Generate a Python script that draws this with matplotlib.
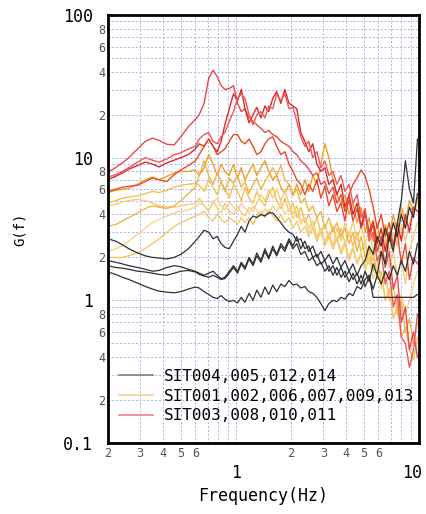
import matplotlib
matplotlib.use("Agg")
import matplotlib.pyplot as plt
from matplotlib.ticker import FixedLocator, FuncFormatter
from matplotlib.lines import Line2D
from matplotlib.transforms import ScaledTranslation

plt.rcParams['font.family'] = ['DejaVu Sans Mono']

# frequency grid (Hz)
freq = [0.2, 0.22, 0.24, 0.26, 0.29, 0.32, 0.35, 0.38, 0.42, 0.46, 0.5, 0.55,
        0.6, 0.63, 0.67, 0.71, 0.75, 0.79, 0.83, 0.87, 0.92, 0.97,
        1.02, 1.07, 1.12, 1.18, 1.24, 1.3, 1.37, 1.44, 1.51, 1.59,
        1.67, 1.76, 1.85, 1.95, 2.05, 2.15, 2.26, 2.38, 2.5, 2.63,
        2.77, 2.91, 3.06, 3.22, 3.39, 3.56, 3.75, 3.94, 4.15, 4.36,
        4.59, 4.83, 5.08, 5.34, 5.62, 5.91, 6.22, 6.54, 6.88, 7.24,
        7.62, 8.01, 8.43, 8.87, 9.33, 9.81]

# SIT004,005,012,014 (black)
b1 = [2.7, 2.6, 2.45, 2.3, 2.15, 2.05, 2.0, 1.98, 1.95, 2.0, 2.1, 2.3,
      2.6, 2.8, 3.1, 3.0, 2.7, 2.8, 2.5, 2.35, 2.3, 2.6,
      2.9, 3.3, 3.0, 3.6, 3.9, 3.8, 4.0, 3.9, 4.1, 4.1,
      3.8, 3.5, 3.2, 3.0, 2.9, 2.6, 2.7, 2.3, 2.4, 2.0,
      2.1, 1.8, 1.9, 1.6, 1.75, 1.5, 1.7, 1.45, 1.6, 1.4,
      1.55, 1.3, 1.6, 1.35, 1.8, 1.5, 2.2, 1.8, 2.8, 2.2,
      3.5, 5.0, 9.5, 6.0, 4.8, 13.5]
b2 = [1.9, 1.85, 1.8, 1.75, 1.7, 1.65, 1.6, 1.62, 1.7, 1.75, 1.72, 1.65,
      1.6, 1.55, 1.5, 1.55, 1.6, 1.5, 1.42, 1.45, 1.6, 1.75,
      1.6, 1.85, 1.7, 2.0, 1.8, 2.15, 1.9, 2.3, 2.0, 2.4,
      2.1, 2.5, 2.3, 2.7, 2.4, 2.8, 2.3, 2.6, 2.2, 2.4,
      2.0, 2.2, 1.9, 2.1, 1.8, 2.0, 1.7, 1.9, 1.6, 1.8,
      1.5, 1.75, 1.9, 2.4, 2.1, 2.8, 2.4, 3.2, 2.6, 3.5,
      2.8, 4.0, 3.2, 4.5, 3.8, 5.6]
b3 = [1.75, 1.7, 1.68, 1.65, 1.6, 1.58, 1.55, 1.52, 1.5, 1.55, 1.6, 1.62,
      1.58, 1.52, 1.48, 1.45, 1.5, 1.45, 1.4, 1.42, 1.55, 1.7,
      1.55, 1.8, 1.65, 1.95, 1.75, 2.05, 1.85, 2.2, 1.95, 2.3,
      2.05, 2.4, 2.2, 2.6, 2.3, 2.5, 2.1, 2.2, 1.9, 2.0,
      1.75, 1.85, 1.6, 1.75, 1.5, 1.7, 1.45, 1.6, 1.35, 1.55,
      1.3, 1.5, 1.25, 1.45, 1.2, 1.5, 1.3, 1.6, 1.4, 1.75,
      1.5, 1.9, 1.6, 2.2, 1.8, 2.5]
b4 = [1.58, 1.52, 1.45, 1.4, 1.32, 1.25, 1.2, 1.16, 1.14, 1.13, 1.15, 1.2,
      1.24, 1.22, 1.15, 1.1, 1.05, 1.03, 1.08, 1.02, 0.98, 1.0,
      0.96, 1.05, 0.97, 1.12, 1.0, 1.18, 1.05, 1.24, 1.1, 1.28,
      1.15, 1.3, 1.25, 1.38, 1.28, 1.3, 1.22, 1.25, 1.15, 1.12,
      1.05, 0.95, 0.85, 0.95, 1.0, 0.98, 1.05, 1.02, 1.12, 1.08,
      1.25, 1.2, 1.4, 1.5, 1.05, 1.05, 1.05, 1.05, 1.05, 1.05,
      1.05, 1.05, 1.05, 1.05, 1.05, 1.1]

# SIT001,002,006,007,009,013 (yellow / orange)
y1 = [5.7, 5.9, 6.0, 6.1, 6.5, 7.0, 7.3, 7.0, 7.4, 7.8, 8.0, 8.0,
      8.2, 7.5, 8.5, 10.5, 9.0, 7.5, 9.0, 8.0, 7.5, 9.0,
      7.2, 8.5, 7.0, 8.0, 9.0, 7.5, 8.5, 9.5, 8.0, 7.0,
      7.5, 6.2, 5.6, 6.5, 5.4, 6.5, 5.5, 7.0, 5.8, 7.5,
      6.5, 9.0, 12.5, 10.0, 7.0, 5.5, 4.8, 5.5, 4.0, 4.8,
      3.5, 4.5, 3.0, 3.8, 2.6, 3.5, 2.5, 3.4, 2.7, 4.0,
      3.0, 4.5, 3.5, 5.0, 4.2, 5.2]
y2 = [4.8, 5.0, 5.2, 5.3, 5.4, 5.6, 5.8, 5.7, 5.9, 6.2, 6.4, 6.5,
      6.6, 6.4, 5.8, 7.0, 6.2, 5.5, 6.8, 6.0, 5.2, 6.5,
      5.8, 5.0, 6.2, 5.2, 4.8, 5.8, 5.0, 4.6, 5.5, 6.2,
      5.0, 4.4, 5.2, 4.2, 4.8, 3.8, 4.5, 3.5, 4.0, 3.2,
      3.8, 3.0, 3.4, 2.7, 3.3, 2.6, 3.2, 2.5, 3.0, 2.4,
      3.0, 2.2, 2.6, 1.8, 2.2, 1.4, 1.6, 1.0, 1.2, 0.75,
      0.9, 0.55, 0.65, 0.45, 0.38, 0.55]
y3 = [4.6, 4.7, 4.9, 5.0, 5.1, 5.0, 4.8, 4.6, 4.5, 4.5, 4.6, 4.7,
      4.8, 5.2, 4.6, 4.2, 5.0, 4.4, 4.1, 4.8, 4.2, 4.0,
      4.6, 4.1, 3.9, 4.5, 4.2, 4.8, 5.5, 5.0, 6.0, 5.2,
      6.0, 5.0, 5.8, 4.8, 4.0, 4.6, 3.6, 3.8, 3.2, 3.6,
      2.8, 3.2, 2.6, 3.0, 2.4, 3.2, 2.6, 3.5, 2.8, 3.6,
      2.6, 3.4, 2.5, 3.2, 2.2, 3.0, 2.0, 2.6, 1.7, 2.2,
      1.5, 2.0, 1.3, 2.2, 2.8, 3.5]
y4 = [3.3, 3.4, 3.6, 3.8, 4.1, 4.4, 4.6, 4.5, 4.4, 4.6, 5.0, 5.6,
      6.2, 7.5, 9.5, 7.5, 6.5, 7.8, 6.8, 5.8, 7.2, 6.6,
      7.5, 6.2, 6.8, 5.6, 6.5, 7.2, 6.0, 6.8, 7.5, 8.5,
      7.5, 8.8, 7.0, 6.5, 5.5, 6.0, 4.8, 5.2, 4.2, 4.6,
      3.8, 4.2, 3.2, 3.8, 3.0, 3.5, 2.8, 3.2, 2.5, 3.0,
      2.2, 2.8, 2.0, 2.4, 1.6, 2.0, 1.3, 1.6, 1.0, 1.3,
      0.8, 1.0, 0.6, 0.75, 0.5, 0.7]
y5 = [2.2, 2.3, 2.4, 2.6, 2.9, 3.2, 3.5, 3.7, 3.9, 4.1, 4.2, 4.3,
      4.5, 4.8, 4.6, 4.3, 4.8, 5.2, 4.6, 4.3, 4.9, 4.5,
      4.2, 4.8, 4.4, 4.1, 4.6, 4.3, 3.9, 4.4, 4.0, 4.6,
      4.2, 4.8, 4.0, 4.4, 3.7, 4.2, 3.4, 3.8, 3.0, 3.4,
      2.7, 3.1, 2.5, 2.9, 2.3, 2.8, 2.2, 2.6, 2.0, 2.4,
      1.8, 2.2, 1.6, 2.0, 1.4, 1.8, 1.2, 1.5, 1.0, 1.3,
      0.9, 1.1, 0.8, 1.0, 1.3, 1.6]
y6 = [2.0, 2.0, 2.0, 2.05, 2.15, 2.3, 2.5, 2.7, 3.0, 3.3, 3.5, 3.7,
      3.9, 4.0, 4.2, 3.8, 3.6, 4.0, 3.7, 3.5, 3.8, 3.6,
      3.4, 3.8, 3.5, 3.8, 3.4, 3.9, 4.2, 3.8, 4.3, 3.9,
      3.6, 4.0, 3.5, 3.8, 3.2, 3.6, 3.0, 3.3, 2.8, 3.2,
      2.6, 3.0, 2.4, 2.8, 2.3, 2.7, 2.1, 2.5, 1.9, 2.3,
      1.8, 2.1, 1.7, 2.2, 1.9, 2.5, 2.0, 2.8, 2.2, 3.0,
      2.4, 3.3, 2.6, 3.5, 4.0, 4.8]

# SIT003,008,010,011 (red)
r1 = [7.9, 8.5, 9.2, 10.0, 11.5, 13.0, 13.7, 13.2, 12.4, 12.3, 14.0, 16.5,
      18.5, 20.0, 24.0, 36.0, 41.0, 37.0, 32.0, 30.0, 30.5, 32.0,
      24.0, 21.0, 22.0, 19.0, 18.0, 17.0, 16.0, 15.0, 15.5, 14.5,
      14.0, 13.0, 12.5, 12.0, 11.0, 10.5, 9.5, 9.0, 8.3, 7.5,
      7.8, 6.5, 6.8, 5.6, 6.2, 4.8, 5.5, 4.2, 5.0, 3.6,
      4.4, 3.2, 4.0, 2.8, 3.4, 2.2, 2.8, 1.7, 2.2, 1.2,
      1.5, 0.7, 0.9, 0.45, 0.6, 0.4]
r2 = [7.0, 7.4, 7.8, 8.3, 8.8, 9.3, 9.0, 8.6, 9.2, 9.6, 10.0, 10.5,
      11.5, 12.5, 12.0, 13.5, 12.0, 11.0, 13.0, 17.0, 22.0, 28.0,
      25.0, 30.0, 22.0, 17.5, 20.0, 22.5, 19.0, 23.0, 21.0, 26.0,
      29.0, 24.0, 30.0, 24.0, 23.0, 22.0, 15.0, 13.0, 11.0, 12.5,
      9.0, 8.0, 8.5, 6.5, 7.0, 5.5, 6.5, 4.5, 5.5, 4.0,
      4.8, 3.3, 4.2, 3.0, 3.6, 2.5, 3.2, 2.2, 3.0, 2.4,
      3.5, 2.6, 4.0, 3.0, 4.5, 4.2]
r3 = [7.3, 7.6, 8.0, 8.5, 9.3, 10.0, 9.6, 9.3, 9.8, 10.5, 10.8, 11.5,
      12.0, 13.5, 14.5, 15.0, 13.0, 12.5, 14.0, 15.0, 18.0, 21.0,
      26.0, 28.0, 26.0, 20.0, 17.0, 20.0, 21.0, 19.0, 23.0, 22.0,
      28.0, 25.0, 28.0, 22.0, 22.5, 18.0, 14.0, 12.0, 13.0, 10.0,
      11.0, 8.5, 9.5, 7.5, 8.0, 6.5, 7.5, 5.8, 6.5, 4.8,
      5.5, 3.8, 4.4, 2.6, 3.0, 1.9, 2.2, 1.3, 1.6, 0.9,
      1.1, 0.55, 0.5, 0.34, 0.45, 0.8]
r4 = [5.8, 6.0, 6.2, 6.3, 6.4, 6.8, 7.2, 7.0, 6.8, 7.6, 8.2, 8.8,
      9.5, 10.5, 12.0, 13.5, 12.0, 10.5, 11.0, 11.5, 13.0, 14.5,
      14.5, 13.0, 12.5, 13.5, 12.0, 10.5, 11.0, 12.5, 13.5, 14.0,
      12.0, 10.5, 11.0, 9.0, 8.0, 7.0, 6.5, 5.5, 6.5, 5.8,
      7.0, 5.2, 6.3, 4.6, 5.5, 4.2, 4.8, 3.6, 5.5, 6.5,
      7.2, 8.2, 7.4, 6.0, 4.5, 3.2, 4.0, 2.8, 3.5, 2.4,
      3.0, 1.8, 2.5, 1.4, 2.0, 1.8]

yellow_curves = [y1, y2, y3, y4, y5, y6]
yellow_colors = ['#f0a020', '#f5c050', '#f7cc70', '#f2b440', '#f8d488', '#f5c868']
red_curves = [r1, r2, r3, r4]
red_colors = ['#e84848', '#e02828', '#e85858', '#ec4a28']
black_curves = [b1, b2, b3, b4]

legend_labels = ['SIT004,005,012,014', 'SIT001,002,006,007,009,013', 'SIT003,008,010,011']

fig = plt.figure(figsize=(4.26, 5.14), dpi=100)
ax = fig.add_axes([0.2535, 0.138, 0.730, 0.833])

for vals, c in zip(yellow_curves, yellow_colors):
    ax.plot(freq, vals, color=c, lw=1.0)
for vals, c in zip(red_curves, red_colors):
    ax.plot(freq, vals, color=c, lw=1.0)
for vals in black_curves:
    ax.plot(freq, vals, color='#303030', lw=0.9)

ax.set_xscale('log')
ax.set_yscale('log')
ax.set_xlim(0.2, 10)
ax.set_ylim(0.1, 100)

ax.xaxis.set_major_locator(FixedLocator([1, 10]))
ax.xaxis.set_major_formatter(FuncFormatter(lambda v, p: '%g' % v))
xminor = [0.2, 0.3, 0.4, 0.5, 0.6, 0.7, 0.8, 0.9, 2, 3, 4, 5, 6, 7, 8, 9]
ax.xaxis.set_minor_locator(FixedLocator(xminor))


def xminor_fmt(v, p):
    d = round(v if v >= 1 else v * 10)
    return str(d) if d <= 6 else ''


ax.xaxis.set_minor_formatter(FuncFormatter(xminor_fmt))

ax.yaxis.set_major_locator(FixedLocator([0.1, 1, 10, 100]))
ax.yaxis.set_major_formatter(FuncFormatter(lambda v, p: '%g' % v))
yminor = []
for dec in [0.1, 1, 10]:
    for k in range(2, 10):
        yminor.append(k * dec)
ax.yaxis.set_minor_locator(FixedLocator(yminor))


def yminor_fmt(v, p):
    for dec in [0.1, 1, 10]:
        k = round(v / dec)
        if 2 <= k <= 9 and abs(k * dec - v) < 1e-6 * dec:
            return str(k) if k % 2 == 0 else ''
    return ''


ax.yaxis.set_minor_formatter(FuncFormatter(yminor_fmt))

ax.tick_params(which='both', length=0)
ax.tick_params(axis='y', which='major', labelsize=12, pad=11)
ax.tick_params(axis='y', which='minor', labelsize=8.5, labelcolor='#555555', pad=2)
ax.tick_params(axis='x', which='major', labelsize=12, pad=15)
ax.tick_params(axis='x', which='minor', labelsize=8.5, labelcolor='#555555', pad=3)

# nudge the "10" label so it stays inside the figure
fig.canvas.draw()
for lbl in ax.get_xticklabels():
    if lbl.get_text() == '10':
        lbl.set_transform(lbl.get_transform() + ScaledTranslation(-5 / 72, 0, fig.dpi_scale_trans))

ax.set_axisbelow(True)
ax.grid(True, which='both', color='#adadf2', lw=0.7, linestyle=(0, (2, 2)))
for s in ax.spines.values():
    s.set_linewidth(2)
    s.set_color('black')

ax.set_xlabel('Frequency(Hz)', fontsize=12, labelpad=4)
ax.set_ylabel('G(f)', fontsize=10, labelpad=26)

handles = [Line2D([], [], color='#808080', lw=1.2),
           Line2D([], [], color='#f5d090', lw=1.2),
           Line2D([], [], color='#f08080', lw=1.2)]
ax.legend(handles, legend_labels, loc='lower left', bbox_to_anchor=(0.0, 0.02),
          frameon=False, fontsize=11.5, handlelength=2.1, handletextpad=0.7,
          labelspacing=0.3, borderaxespad=0.3)

fig.savefig('out.png', dpi=100)
